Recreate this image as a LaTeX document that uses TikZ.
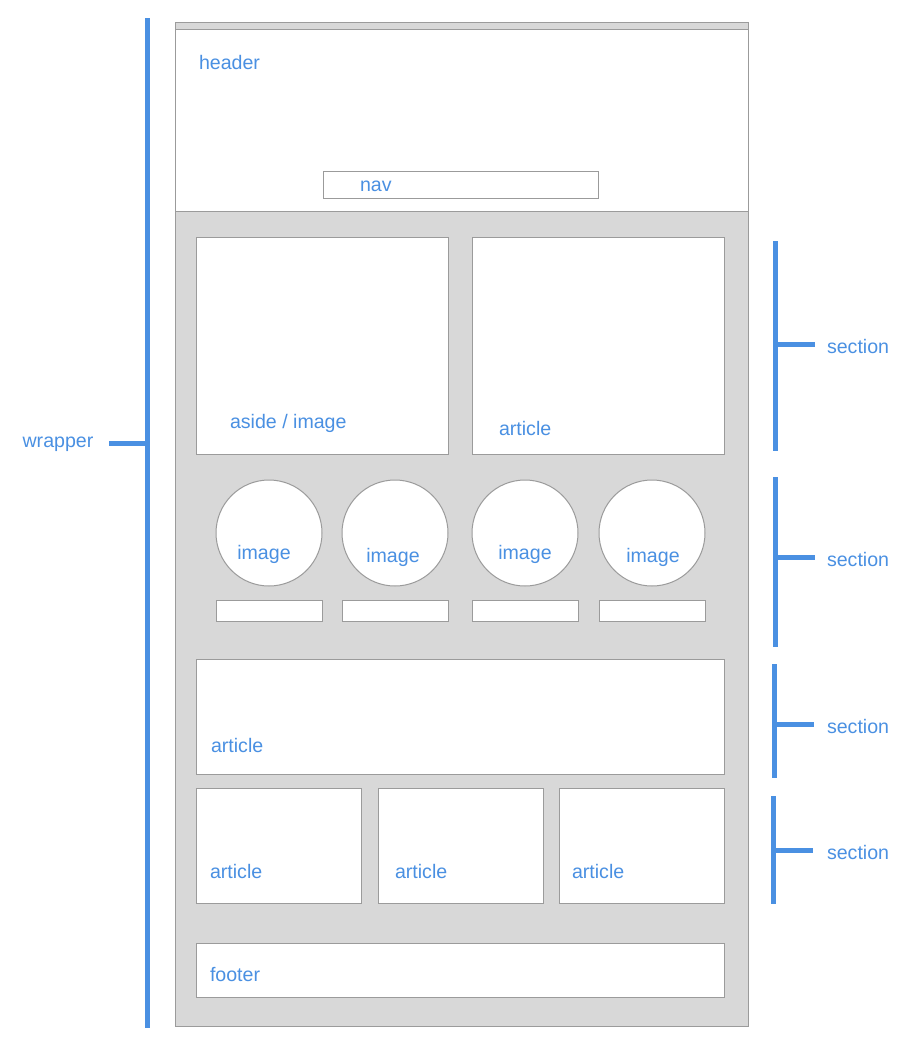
\documentclass[tikz,border=0pt]{standalone}
\usepackage{fontspec}
\setmainfont{Liberation Sans}
\begin{document}
\begin{tikzpicture}[x=1pt,y=-1pt,
  every node/.style={inner sep=0pt, outer sep=0pt},
  txt/.style={text=lblblue, font=\fontsize{19.6}{22}\selectfont},
  label/.style={txt, anchor=west},
  frame/.style={draw=edgegray, line width=1pt},
  whitebox/.style={frame, fill=white},
  bracket/.style={draw=lblblue, line width=5pt},
]
\definecolor{lblblue}{HTML}{4A90E2}
\definecolor{edgegray}{HTML}{9B9B9B}
\definecolor{bodygray}{HTML}{D8D8D8}
\useasboundingbox (0,0) rectangle (923,1060);

% wrapper and header
\draw[frame, fill=bodygray] (175,22) rectangle (748,1026);
\draw[whitebox] (175,29) rectangle (748,211);
\node[label] (header) at (199,62) {header};
\draw[whitebox] (323,171) rectangle (598,198);
\node[label] (nav) at (360,186) {nav};

% first section: aside and article
\draw[whitebox] (196,237) rectangle (448,454);
\node[label] (aside) at (230,423) {aside / image};
\draw[whitebox] (472,237) rectangle (724,454);
\node[label] (art1) at (499,428) {article};

% second section: images with captions
\foreach \cx/\tx/\ty [count=\i] in {269/264/553, 395/393/556, 525/525/553, 652/653/556}{
  \draw[whitebox] (\cx,533) circle[radius=53];
  \node[txt] (img\i) at (\tx,\ty+1) {image};
  \draw[whitebox] (\cx-53,600) rectangle (\cx+53,621);
}

% third section: wide article
\draw[whitebox] (196,659) rectangle (724,774);
\node[label] (art2) at (211,745) {article};

% fourth section: three articles
\draw[whitebox] (196,788) rectangle (361,903);
\node[label] (art3) at (210,871) {article};
\draw[whitebox] (378,788) rectangle (543,903);
\node[label] (art4) at (395,871) {article};
\draw[whitebox] (559,788) rectangle (724,903);
\node[label] (art5) at (572,871) {article};

% footer
\draw[whitebox] (196,943) rectangle (724,997);
\node[label] (footer) at (210,974) {footer};

% wrapper bracket
\draw[bracket] (147,18) -- (147,1028);
\draw[bracket] (109,443) -- (147,443);
\node[txt] (wrapper) at (58,444) {wrapper};

% section brackets
\foreach \bx/\ya/\yb/\ym in {775/241/451/344, 775/477/647/557, 774/664/778/724, 773/796/904/850}{
  \draw[bracket] (\bx,\ya) -- (\bx,\yb);
  \draw[bracket] (\bx,\ym) -- (\bx+40,\ym);
  \node[label] at (827,\ym+2) {section};
}
\end{tikzpicture}
\end{document}
